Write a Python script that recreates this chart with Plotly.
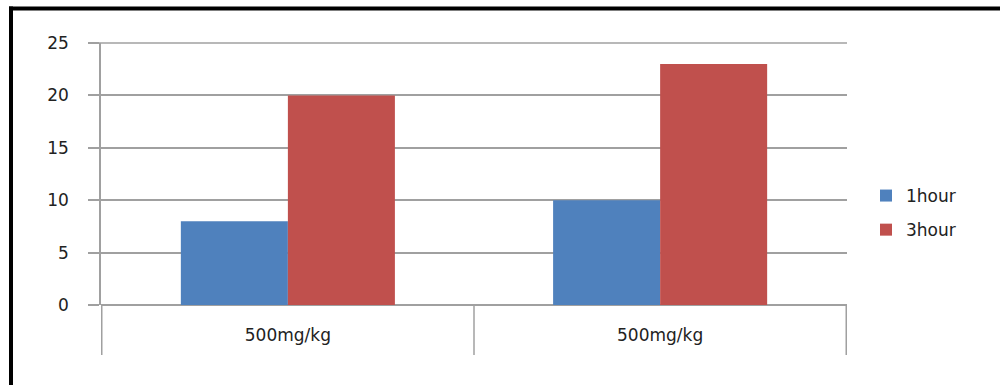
import plotly.graph_objects as go

categories = ["500mg/kg", "500mg/kg "]
cat_labels = ["500mg/kg", "500mg/kg"]
series_names = ["1hour", "3hour"]
values_1hour = [8, 10]
values_3hour = [20, 23]
y_ticks = [0, 5, 10, 15, 20, 25]

blue = "#4F81BD"
red = "#C0504D"
grid = "#A0A0A0"
font = dict(family="DejaVu Sans", size=17, color="#222222")

fig = go.Figure()
fig.add_trace(go.Bar(x=categories, y=values_1hour, name=series_names[0], legendgroup="g1",
                     marker=dict(color=blue, line_width=0)))
fig.add_trace(go.Bar(x=categories, y=values_3hour, name=series_names[1], legendgroup="g2",
                     marker=dict(color=red, line_width=0)))

L, R, T, B = 101, 847, 43, 305
W, H = 1000, 385
pw, ph = R - L, B - T

def px_x(p):
    return (p - L) / pw

def px_y(p):
    return (B - p) / ph

shapes = []
# category dividers below axis
for xb in [-0.5, 0.5, 1.5]:
    shapes.append(dict(type="line", xref="x", yref="paper", x0=xb, x1=xb,
                       y0=px_y(355), y1=0, line=dict(color=grid, width=1.5)))
# top gridline (edge of range) with its outside tick
shapes.append(dict(type="line", xref="paper", yref="paper", x0=px_x(90), x1=1,
                   y0=1, y1=1, line=dict(color=grid, width=1.5), layer="below"))
# black frame (top and left)
shapes.append(dict(type="line", xref="paper", yref="paper", x0=px_x(9), x1=px_x(1005),
                   y0=px_y(8.5), y1=px_y(8.5), line=dict(color="black", width=4)))
shapes.append(dict(type="line", xref="paper", yref="paper", x0=px_x(11), x1=px_x(11),
                   y0=px_y(6.5), y1=px_y(392), line=dict(color="black", width=4)))

fig.update_layout(
    width=W, height=H,
    margin=dict(l=L, r=W - R, t=T, b=H - B, autoexpand=False),
    paper_bgcolor="white", plot_bgcolor="white",
    barmode="group", bargap=0.425, bargroupgap=0,
    font=font,
    showlegend=True,
    legend=dict(x=px_x(866), y=px_y(213), xanchor="left", yanchor="middle",
                font=font, itemwidth=30, traceorder="grouped", tracegroupgap=9,
                bgcolor="rgba(0,0,0,0)"),
    shapes=shapes,
    xaxis=dict(type="category", tickvals=categories, ticktext=cat_labels,
               ticks="", showgrid=False, showline=False, zeroline=False,
               ticklabelstandoff=18, tickfont=font),
    yaxis=dict(range=[0, 25], tickvals=y_ticks, showgrid=True, gridcolor=grid, gridwidth=1.5,
               showline=True, linecolor=grid, linewidth=1.5,
               zeroline=True, zerolinecolor=grid, zerolinewidth=1.5,
               ticks="outside", ticklen=11, tickcolor=grid, tickwidth=1.5,
               ticklabelstandoff=16, tickfont=font),
)

fig.write_html("out.html")
